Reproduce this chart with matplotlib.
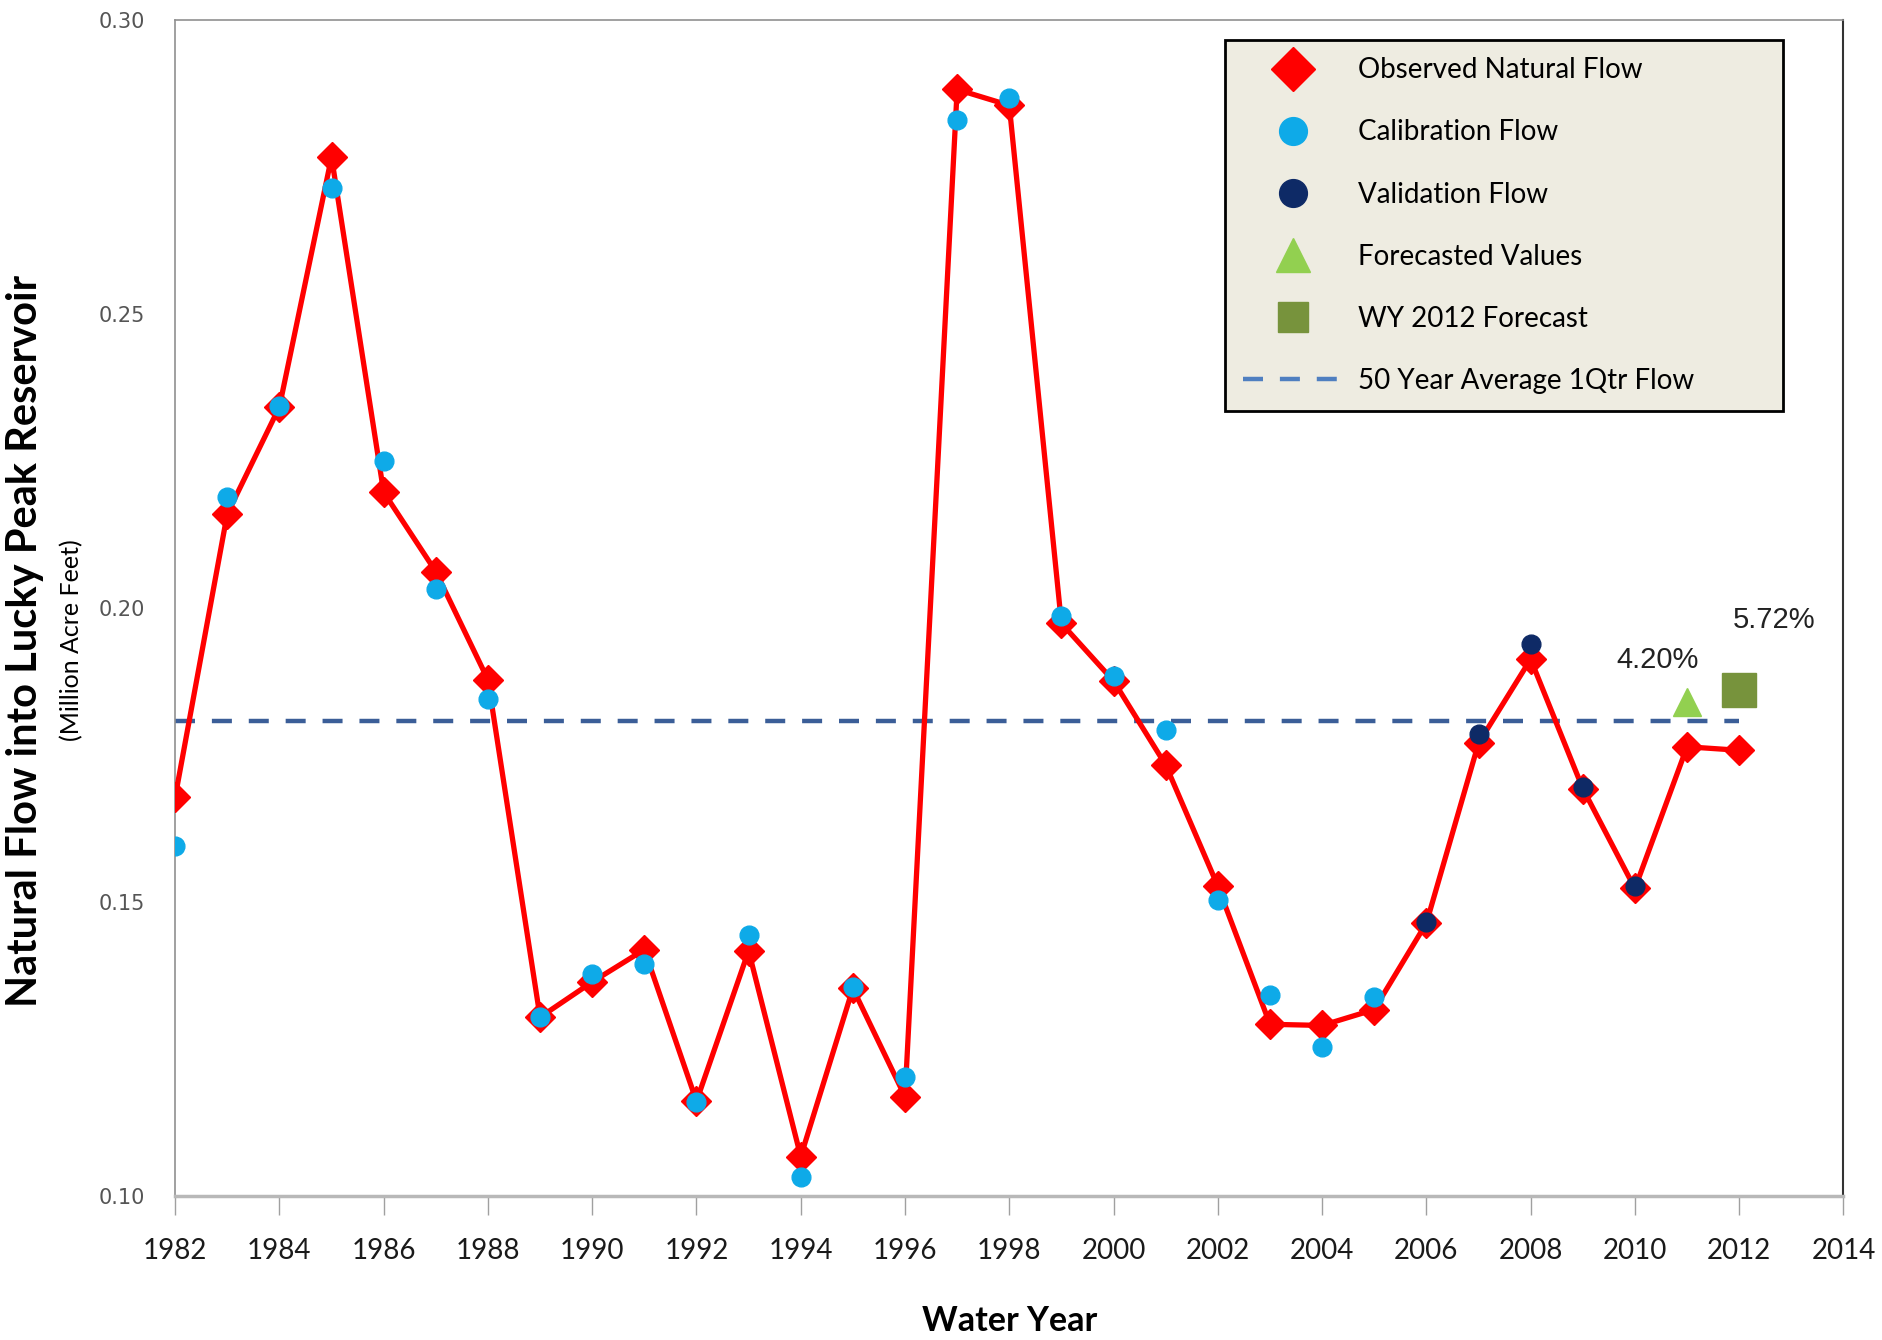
import matplotlib
matplotlib.use("Agg")
import matplotlib.pyplot as plt
from matplotlib.lines import Line2D

# values
years = list(range(1982, 2013))
observed = [0.1678, 0.2160, 0.2342, 0.2767, 0.2197, 0.2062, 0.1878, 0.1304,
            0.1364, 0.1419, 0.1161, 0.1417, 0.1067, 0.1353, 0.1169, 0.2882,
            0.2855, 0.1974, 0.1876, 0.1733, 0.1527, 0.1292, 0.1290, 0.1317,
            0.1464, 0.1770, 0.1913, 0.1693, 0.1523, 0.1764, 0.1758]
calib_years = list(range(1982, 2006))
calibration = [0.1596, 0.2189, 0.2344, 0.2714, 0.2250, 0.2032, 0.1846, 0.1304,
               0.1378, 0.1394, 0.1159, 0.1443, 0.1033, 0.1355, 0.1202, 0.2830,
               0.2867, 0.1987, 0.1885, 0.1793, 0.1503, 0.1341, 0.1253, 0.1339]
valid_years = [2006, 2007, 2008, 2009, 2010]
validation = [0.1466, 0.1786, 0.1938, 0.1695, 0.1527]
forecast_year, forecast_val, forecast_lbl = 2011, 0.1840, "4.20%"
wy2012_year, wy2012_val, wy2012_lbl = 2012, 0.1860, "5.72%"
avg_flow = 0.1807

red = "#FF0000"
lblue = "#0EAAE8"
navy = "#0E2A66"
lgreen = "#92D050"
ogreen = "#77933C"
dash_col = "#3B5E98"

sans = ["Lato", "DejaVu Sans"]

fig = plt.figure(figsize=(18.83, 13.40), dpi=100)
ax = fig.add_axes([0.093, 0.1075, 0.886, 0.8775])

ax.plot([years[0], years[-1]], [avg_flow, avg_flow], color=dash_col, lw=3.2,
        dashes=(4.5, 3.8), zorder=2)
ax.plot(years, observed, color=red, lw=3.8, marker="D", ms=15,
        mec=red, zorder=3)
ax.plot(calib_years, calibration, ls="none", marker="o", ms=13.5,
        color=lblue, mec=lblue, zorder=4)
ax.plot(valid_years, validation, ls="none", marker="o", ms=13.5,
        color=navy, mec=navy, zorder=4)
ax.plot([forecast_year], [forecast_val], ls="none", marker="^", ms=20,
        color=lgreen, mec=lgreen, zorder=4)
ax.plot([wy2012_year], [wy2012_val], ls="none", marker="s", ms=24,
        color=ogreen, mec=ogreen, zorder=4)

ax.annotate(forecast_lbl, (forecast_year, forecast_val), xytext=(-21, 30),
            textcoords="offset points", ha="center", va="center",
            fontsize=21, family="Liberation Sans", color="#222222")
ax.annotate(wy2012_lbl, (wy2012_year, wy2012_val), xytext=(25, 51),
            textcoords="offset points", ha="center", va="center",
            fontsize=21, family="Liberation Sans", color="#222222")

ax.set_xlim(1982, 2014)
ax.set_ylim(0.10, 0.30)
ax.set_xticks(range(1982, 2015, 2))
ax.set_yticks([0.10, 0.15, 0.20, 0.25, 0.30])
ax.set_yticklabels(["0.10", "0.15", "0.20", "0.25", "0.30"])
ax.tick_params(axis="x", length=14, width=1, color="#A0A0A0", pad=16,
               labelsize=20, labelcolor="#1a1a1a")
ax.tick_params(axis="y", length=0, pad=22, labelsize=15, labelcolor="#555555")
for lab in ax.get_xticklabels():
    lab.set_family(sans)
for lab in ax.get_yticklabels():
    lab.set_family("DejaVu Sans")

ax.spines["left"].set_color("#909090")
ax.spines["left"].set_linewidth(1.2)
ax.spines["top"].set_color("#909090")
ax.spines["top"].set_linewidth(1.2)
ax.spines["bottom"].set_color("#B8B8B8")
ax.spines["bottom"].set_linewidth(2.5)
ax.spines["right"].set_color("#333333")
ax.spines["right"].set_linewidth(1.5)

ax.set_xlabel("Water Year", family=sans, fontsize=24.5, fontweight="bold",
              labelpad=30)
fig.text(0.0135, 0.522, "Natural Flow into Lucky Peak Reservoir", rotation=90,
         ha="center", va="center", family=sans, fontsize=30, fontweight="bold")
fig.text(0.038, 0.522, "(Million Acre Feet)", rotation=90, ha="center",
         va="center", family=sans, fontsize=18)

handles = [
    Line2D([], [], ls="none", marker="D", ms=22, color=red),
    Line2D([], [], ls="none", marker="o", ms=20, color=lblue),
    Line2D([], [], ls="none", marker="o", ms=20, color=navy),
    Line2D([], [], ls="none", marker="^", ms=24, color=lgreen),
    Line2D([], [], ls="none", marker="s", ms=22, color=ogreen),
    Line2D([], [], color="#4F7FC0", lw=3.2, dashes=(4.5, 3.8)),
]
labels = ["Observed Natural Flow", "Calibration Flow", "Validation Flow",
          "Forecasted Values", "WY 2012 Forecast", "50 Year Average 1Qtr Flow"]
leg = ax.legend(handles, labels, loc="upper left",
                bbox_to_anchor=(0.6295, 0.668, 0.334, 0.315), mode="expand",
                borderaxespad=0, prop={"family": sans, "size": 20},
                handlelength=3.6, handletextpad=0.55, labelspacing=1.3,
                borderpad=0.62, fancybox=False, framealpha=1)
leg.get_frame().set_facecolor("#EEECE1")
leg.get_frame().set_edgecolor("black")
leg.get_frame().set_linewidth(2)

fig.savefig("out.png", dpi=100)
